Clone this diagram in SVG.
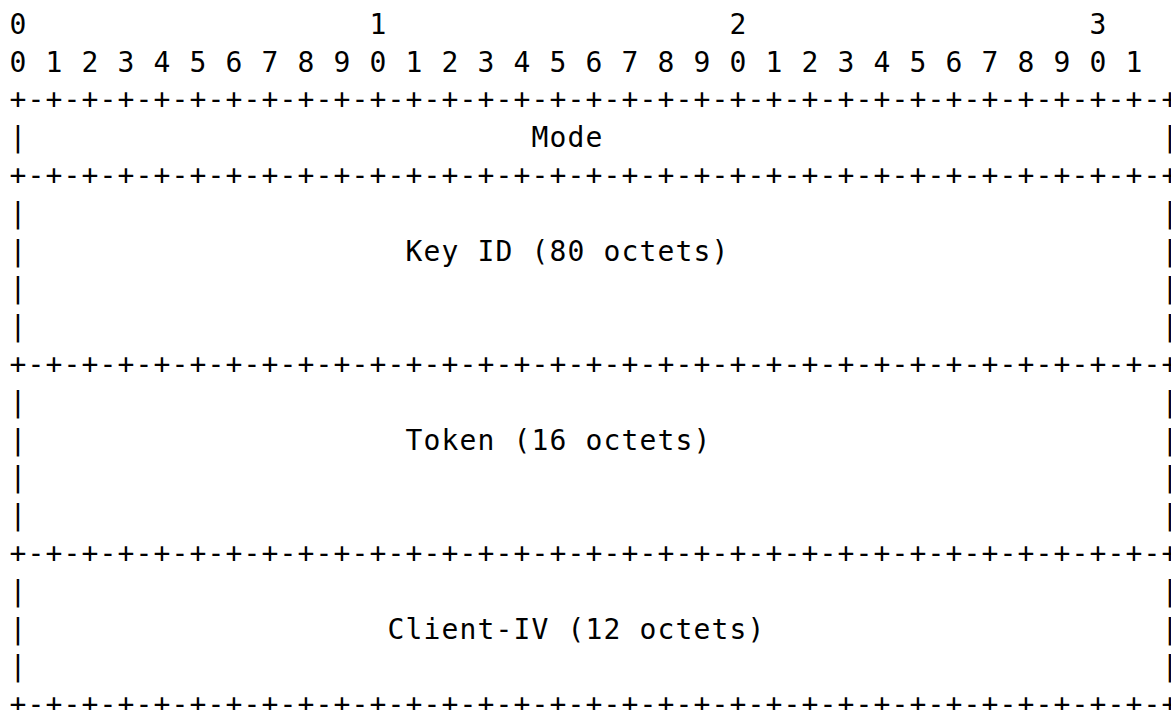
<svg xmlns="http://www.w3.org/2000/svg" width="1171" height="710" viewBox="0 0 1171 710">
<style>
text{font-family:"DejaVu Sans Mono","Liberation Mono",monospace;font-size:28px;letter-spacing:1.14px;fill:#000;white-space:pre}
.c{text-anchor:middle;letter-spacing:0}
</style>
<rect width="1171" height="710" fill="#fff"/>
<g id="ruler">
<text class="c" x="18" y="33.8">0</text>
<text class="c" x="378" y="33.8">1</text>
<text class="c" x="738" y="33.8">2</text>
<text class="c" x="1098" y="33.8">3</text>
<text x="9.6" y="71.6" xml:space="preserve">0 1 2 3 4 5 6 7 8 9 0 1 2 3 4 5 6 7 8 9 0 1 2 3 4 5 6 7 8 9 0 1</text>
</g>
<g id="separators">
<text x="9.6" y="109.4">+-+-+-+-+-+-+-+-+-+-+-+-+-+-+-+-+-+-+-+-+-+-+-+-+-+-+-+-+-+-+-+-+</text>
<text x="9.6" y="185.0">+-+-+-+-+-+-+-+-+-+-+-+-+-+-+-+-+-+-+-+-+-+-+-+-+-+-+-+-+-+-+-+-+</text>
<text x="9.6" y="374.0">+-+-+-+-+-+-+-+-+-+-+-+-+-+-+-+-+-+-+-+-+-+-+-+-+-+-+-+-+-+-+-+-+</text>
<text x="9.6" y="563.0">+-+-+-+-+-+-+-+-+-+-+-+-+-+-+-+-+-+-+-+-+-+-+-+-+-+-+-+-+-+-+-+-+</text>
<text x="9.6" y="714.2">+-+-+-+-+-+-+-+-+-+-+-+-+-+-+-+-+-+-+-+-+-+-+-+-+-+-+-+-+-+-+-+-+</text>
</g>
<g id="field-mode">
<text x="9.6" y="147.2">|</text>
<text x="1161.6" y="147.2">|</text>
<text x="531.6" y="147.2">Mode</text>
</g>
<g id="field-key-id">
<text x="9.6" y="222.8">|</text><text x="1161.6" y="222.8">|</text>
<text x="9.6" y="260.6">|</text><text x="1161.6" y="260.6">|</text>
<text x="9.6" y="298.4">|</text><text x="1161.6" y="298.4">|</text>
<text x="9.6" y="336.2">|</text><text x="1161.6" y="336.2">|</text>
<text x="405.6" y="260.6">Key ID (80 octets)</text>
</g>
<g id="field-token">
<text x="9.6" y="411.8">|</text><text x="1161.6" y="411.8">|</text>
<text x="9.6" y="449.6">|</text><text x="1161.6" y="449.6">|</text>
<text x="9.6" y="487.4">|</text><text x="1161.6" y="487.4">|</text>
<text x="9.6" y="525.2">|</text><text x="1161.6" y="525.2">|</text>
<text x="405.6" y="449.6">Token (16 octets)</text>
</g>
<g id="field-client-iv">
<text x="9.6" y="600.8">|</text><text x="1161.6" y="600.8">|</text>
<text x="9.6" y="638.6">|</text><text x="1161.6" y="638.6">|</text>
<text x="9.6" y="676.4">|</text><text x="1161.6" y="676.4">|</text>
<text x="387.6" y="638.6">Client-IV (12 octets)</text>
</g>
</svg>
